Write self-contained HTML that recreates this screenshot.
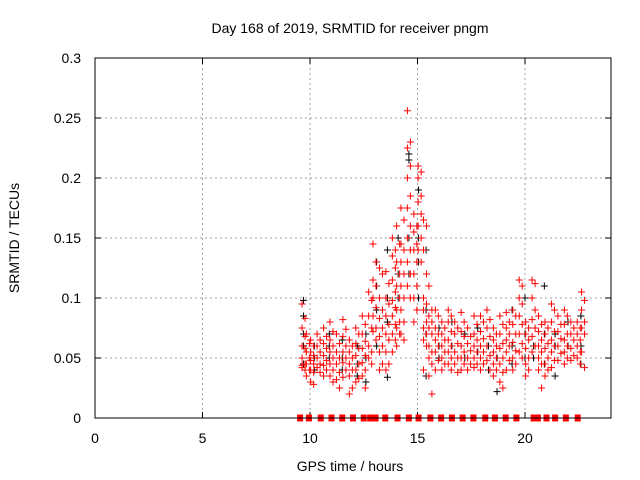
<!DOCTYPE html>
<html><head><meta charset="utf-8"><style>
body{margin:0;background:#fff}
svg{display:block;font-family:"Liberation Sans",sans-serif}
</style></head><body>
<svg id="chart" width="640" height="480" viewBox="0 0 640 480"></svg>
<script>
const xTicks=[0,5,10,15,20];
const yTicks=[0,0.05,0.1,0.15,0.2,0.25,0.3];
const yTickLabels=["0","0.05","0.1","0.15","0.2","0.25","0.3"];
const redCols=[
[9.7,[.095,.083,.075,.068,.06,.058,.05,.045,.042,.04,.044]],
[9.9,[.07,.062,.055,.05,.045,.04,.035]],
[10.1,[.065,.06,.055,.052,.048,.045,.04,.038,.03,.028]],
[10.4,[.07,.065,.06,.055,.05,.045,.042,.038]],
[10.7,[.075,.068,.062,.058,.052,.048,.044,.04,.035]],
[11.0,[.08,.072,.065,.06,.055,.05,.045,.04,.035,.03]],
[11.3,[.07,.062,.055,.05,.045,.038,.032,.025]],
[11.6,[.082,.074,.068,.06,.055,.05,.046,.04,.034]],
[11.9,[.065,.06,.055,.05,.045,.04,.035,.025,.02]],
[12.2,[.075,.07,.062,.058,.052,.045,.04,.033,.03]],
[12.5,[.085,.078,.07,.064,.058,.052,.046,.04,.035,.025]],
[12.8,[.105,.098,.085,.075,.06,.055,.05,.045]],
[13.0,[.145,.13,.115,.11,.1,.092,.085,.075,.072,.065]],
[13.3,[.125,.12,.1,.09,.083,.075,.068,.06,.055,.045,.04]],
[13.6,[.122,.112,.1,.095,.085,.078,.07,.065,.055,.045,.04]],
[13.9,[.15,.14,.135,.125,.115,.105,.098,.092,.085,.078,.07,.065,.055]],
[14.1,[.16,.145,.13,.12,.11,.1,.09,.08,.075,.07,.06]],
[14.3,[.175,.165,.145,.14,.13,.12,.11,.1,.09,.08,.07,.065]],
[14.6,[.256,.23,.225,.21,.2,.185,.175,.16,.15,.14,.13,.12,.11,.1]],
[14.9,[.17,.16,.155,.145,.14,.13,.12,.11,.1,.09,.08]],
[15.1,[.21,.205,.2,.185,.18,.17,.16,.15,.14,.13]],
[15.35,[.165,.16,.14,.12,.1,.095,.09,.08,.075,.07,.065,.06,.04]],
[15.6,[.11,.09,.085,.08,.075,.07,.06,.055,.05,.045,.035,.02]],
[15.9,[.09,.085,.075,.07,.065,.06,.055,.048,.04]],
[16.2,[.08,.075,.07,.065,.06,.055,.05,.045,.04]],
[16.5,[.09,.085,.08,.072,.065,.06,.055,.05,.045,.04]],
[16.8,[.08,.075,.07,.062,.055,.05,.045,.038]],
[17.1,[.088,.08,.072,.068,.06,.055,.05,.045,.04]],
[17.4,[.075,.068,.062,.056,.05,.045,.04]],
[17.7,[.085,.078,.07,.065,.06,.055,.05,.045,.042]],
[18.0,[.085,.08,.072,.066,.06,.055,.05,.045,.04]],
[18.3,[.09,.082,.075,.068,.06,.052,.048,.04]],
[18.6,[.075,.07,.065,.06,.055,.05,.045,.04,.035]],
[18.9,[.085,.078,.07,.062,.058,.05,.045,.038,.03,.025]],
[19.2,[.088,.08,.075,.07,.065,.06,.055,.048,.04]],
[19.5,[.09,.085,.078,.07,.063,.056,.05,.045,.04]],
[19.8,[.115,.11,.1,.095,.085,.078,.07,.062,.055,.05]],
[20.1,[.08,.075,.07,.065,.058,.05,.045,.04,.035]],
[20.4,[.115,.112,.1,.09,.082,.075,.068,.06,.055]],
[20.7,[.085,.078,.072,.065,.06,.055,.05,.045,.04,.025]],
[21.0,[.08,.075,.07,.062,.058,.05,.045,.04,.035]],
[21.3,[.095,.09,.08,.072,.065,.06,.055,.048,.042]],
[21.6,[.085,.078,.072,.066,.06,.054,.048]],
[21.9,[.09,.085,.078,.07,.065,.06,.055,.05,.045]],
[22.2,[.08,.075,.07,.065,.058,.052,.048]],
[22.5,[.08,.075,.07,.065,.06,.055,.05,.045]],
[22.7,[.105,.098,.09,.08,.075,.07,.055,.042]]
];
const blackCols=[
[9.7,[.098,.085,.07,.06,.045]],[10.2,[.06,.05,.04]],[10.9,[.07,.06,.05]],[11.5,[.065,.05,.04]],
[12.2,[.06,.045,.035]],[12.6,[.07,.05,.03]],[13.1,[.13,.11,.09,.06]],[13.6,[.14,.1,.08,.034]],
[14.1,[.15,.12,.1]],[14.6,[.22,.215,.15,.12]],[15.05,[.19,.15,.13,.1]],[15.4,[.14,.09,.07,.035]],
[16.0,[.075,.06,.05]],[16.6,[.08,.06]],[17.2,[.07,.05]],[17.8,[.075,.055]],[18.3,[.06,.04]],
[18.7,[.022,.05]],[19.4,[.09,.06,.045]],[20.0,[.1,.07,.05]],[20.4,[.06,.05]],[20.9,[.11,.07,.045]],
[21.4,[.035,.06,.07]],[22.0,[.08,.06]],[22.6,[.085,.06,.045]]
];
const zeroHours=[9.54,9.95,10.5,11.0,11.5,12.0,12.5,12.8,13.05,13.5,14.07,14.6,15.05,15.6,16.1,16.6,17.1,17.6,18.15,18.6,19.1,19.6,20.4,20.6,21.0,21.4,21.9,22.45];

const NS="http://www.w3.org/2000/svg";
const svg=document.getElementById('chart');
const L=95,R=611,T=58,B=418;
const xs=h=>L+(R-L)*h/24;
const ys=v=>B-(B-T)*v/0.3;
function mk(tag,attrs,parent){const e=document.createElementNS(NS,tag);for(const k in attrs)e.setAttribute(k,attrs[k]);(parent||svg).appendChild(e);return e;}

const grid=mk('g',{});


xTicks.forEach(t=>{if(t>0)mk('line',{x1:xs(t),x2:xs(t),y1:T,y2:B,stroke:'#a0a0a0','stroke-dasharray':'2,3'},grid);});
yTicks.forEach(t=>{if(t>0&&t<0.3)mk('line',{x1:L,x2:R,y1:ys(t),y2:ys(t),stroke:'#a0a0a0','stroke-dasharray':'2,3'},grid);});

const xa=mk('g',{'font-size':'14',fill:'#000'});


xTicks.forEach(t=>{
  mk('line',{x1:xs(t),x2:xs(t),y1:B,y2:B-6,stroke:'#000'},xa);
  mk('line',{x1:xs(t),x2:xs(t),y1:T,y2:T+6,stroke:'#000'},xa);
  const tx=mk('text',{x:xs(t),y:443,'text-anchor':'middle'},xa);tx.textContent=t;
});
const ya=mk('g',{'font-size':'14',fill:'#000'});


yTicks.forEach((t,i)=>{
  mk('line',{x1:L,x2:L+6,y1:ys(t),y2:ys(t),stroke:'#000'},ya);
  mk('line',{x1:R,x2:R-6,y1:ys(t),y2:ys(t),stroke:'#000'},ya);
  const tx=mk('text',{x:81,y:ys(t)+5,'text-anchor':'end'},ya);tx.textContent=yTickLabels[i];
});

function plus(g,x,y,c){mk('path',{d:`M${x-3.5},${y}h7M${x},${y-3.5}v7`,stroke:c,'stroke-width':1},g);}
const bk=mk('g',{});


blackCols.forEach(([h,vs])=>vs.forEach(v=>plus(bk,xs(h),ys(v),'#000')));
const rd=mk('g',{});


redCols.forEach(([h,vs])=>vs.forEach((v,i)=>plus(rd,xs(h)+((i%2)?1.5:-1.5),ys(v),'#f00')));
const zr=mk('g',{});


zeroHours.forEach(h=>mk('rect',{x:xs(h)-3,y:ys(0)-3.5,width:6,height:7,fill:'#f00'},zr));

const fr=mk('rect',{x:L,y:T,width:R-L,height:B-T,fill:'none',stroke:'#000'});



const ti=mk('text',{x:350,y:33,'text-anchor':'middle','font-size':'14'});


ti.textContent='Day 168 of 2019, SRMTID for receiver pngm';
const xl=mk('text',{x:350,y:471,'text-anchor':'middle','font-size':'14'});


xl.textContent='GPS time / hours';
const yl=mk('text',{x:0,y:0,'text-anchor':'middle','font-size':'14',transform:'translate(19,238) rotate(-90)'});


yl.textContent='SRMTID / TECUs';
</script>
</body></html>
